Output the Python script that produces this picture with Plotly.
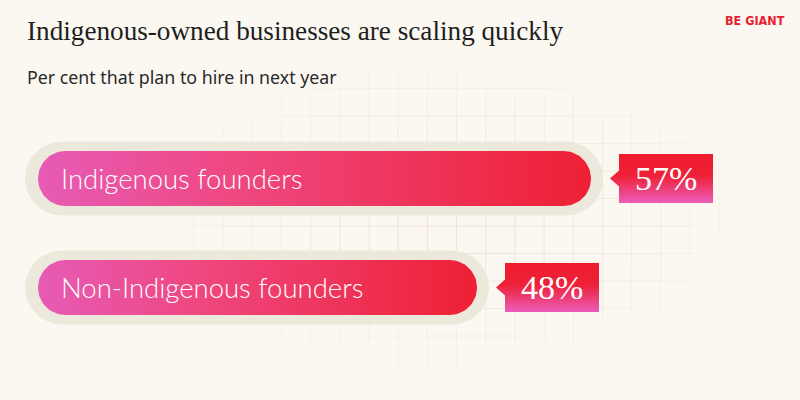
import numpy as np
import plotly.graph_objects as go

# ---------------- data ----------------
categories = ["Indigenous founders", "Non-Indigenous founders"]
values = [57, 48]
value_labels = ["57%", "48%"]
title = "Indigenous-owned businesses are scaling quickly"
subtitle = "Per cent that plan to hire in next year"
brand = "BE GIANT"

# ---------------- geometry / scales ----------------
W, H = 800, 400
X_RANGE = [10.34, 73.5]
Y_RANGE = [2.032, -1.638]
KX = W / (X_RANGE[1] - X_RANGE[0])
KY = H / (Y_RANGE[0] - Y_RANGE[1])


def dx(px):
    return px / KX


def dy(px):
    return px / KY


BAR_BASE = X_RANGE[0] + dx(38)

BG = "#FBF8F1"
PILL = "#ECE8DC"
BAR_SCALE = [[0, "#E65BB6"], [0.35, "#EF4882"], [1, "#EE2034"]]
BOX_SCALE = [[0, "#EE1B2D"], [0.45, "#EE2139"], [1, "#EC5DB9"]]


def pill(x0, x1, yc, hh):
    rx, ry = dx(hh), dy(hh)
    t1 = np.linspace(-np.pi / 2, np.pi / 2, 40)
    t2 = np.linspace(np.pi / 2, 3 * np.pi / 2, 40)
    xs = np.concatenate([x1 - rx + rx * np.cos(t1), x0 + rx + rx * np.cos(t2)])
    ys = np.concatenate([yc + ry * np.sin(t1), yc + ry * np.sin(t2)])
    return np.append(xs, xs[0]), np.append(ys, ys[0])


fig = go.Figure()

# faint decorative grid
shapes = []
cx, cy = 450, 215
for gx in np.arange(515 - 29.2 * 13, 760, 29.2):
    for sy in np.arange(40, 380, 27.5):
        d = ((gx - cx) / 310) ** 2 + ((sy + 13 - cy) / 165) ** 2
        op = max(0.0, 0.5 * (1 - d))
        if op > 0.02:
            shapes.append(dict(type="line", xref="paper", yref="paper",
                               x0=gx / W, x1=gx / W, y0=1 - sy / H, y1=1 - (sy + 27.5) / H,
                               line=dict(color="rgba(232,205,195,%.3f)" % op, width=1), layer="below"))
for gy in np.arange(226 - 27.5 * 6, 380, 27.5):
    for sx in np.arange(515 - 29.2 * 13, 760, 29.2):
        d = ((sx + 14 - cx) / 310) ** 2 + ((gy - cy) / 165) ** 2
        op = max(0.0, 0.5 * (1 - d))
        if op > 0.02:
            shapes.append(dict(type="line", xref="paper", yref="paper",
                               x0=sx / W, x1=(sx + 29.2) / W, y0=1 - gy / H, y1=1 - gy / H,
                               line=dict(color="rgba(232,205,195,%.3f)" % op, width=1), layer="below"))

annotations = []
for i, (cat, v, lab) in enumerate(zip(categories, values, value_labels)):
    # outer pill
    ox, oy = pill(X_RANGE[0] + dx(25), v + dx(12), i, 37)
    fig.add_trace(go.Scatter(x=ox, y=oy, fill="toself", fillcolor=PILL, mode="lines",
                             line=dict(width=0), hoverinfo="skip", showlegend=False))
    # bar
    bx, by = pill(BAR_BASE, v, i, 27.5)
    fig.add_trace(go.Scatter(x=bx, y=by, fill="toself", mode="lines", line=dict(width=0),
                             fillgradient=dict(type="horizontal", colorscale=BAR_SCALE),
                             name=cat, hovertemplate="%{fullData.name}: " + lab + "<extra></extra>",
                             showlegend=False))
    # value box with pointer
    b0 = v + dx(28)
    b1 = b0 + dx(94)
    top, bot = i - dy(24.5), i + dy(24.5)
    tip = v + dx(19)
    kx = [b0, b1, b1, b0, b0, tip, b0, b0]
    ky = [top, top, bot, bot, i + dy(8), i, i - dy(8), top]
    fig.add_trace(go.Scatter(x=kx, y=ky, fill="toself", mode="lines", line=dict(width=0),
                             fillgradient=dict(type="vertical", colorscale=BOX_SCALE,
                                               start=top, stop=bot),
                             hoverinfo="skip", showlegend=False))
    annotations.append(dict(x=BAR_BASE + dx(21), y=i, xref="x", yref="y", text=cat,
                            showarrow=False, xanchor="left", yanchor="middle",
                            font=dict(family="Lato", size=27.5, color="white", weight=300)))
    annotations.append(dict(x=(b0 + b1) / 2, y=i, xref="x", yref="y", text=lab,
                            showarrow=False, xanchor="center", yanchor="middle",
                            font=dict(family="Liberation Serif", size=34, color="white")))

annotations.append(dict(x=25 / W, y=1 - 31 / H, xref="paper", yref="paper", text=title,
                        showarrow=False, xanchor="left", yanchor="middle",
                        font=dict(family="Liberation Serif", size=27.2, color="#1E1E1E")))
annotations.append(dict(x=25 / W, y=1 - 77 / H, xref="paper", yref="paper", text=subtitle,
                        showarrow=False, xanchor="left", yanchor="middle",
                        font=dict(family="Noto Sans", size=17.8, color="#2A2A2A")))
annotations.append(dict(x=787 / W, y=1 - 20 / H, xref="paper", yref="paper", text=brand,
                        showarrow=False, xanchor="right", yanchor="middle",
                        font=dict(family="DejaVu Sans Condensed, DejaVu Sans", size=12.5,
                                  color="#E8202F", weight="bold")))

fig.update_layout(
    width=W, height=H, margin=dict(l=0, r=0, t=0, b=0),
    paper_bgcolor=BG, plot_bgcolor="rgba(0,0,0,0)",
    xaxis=dict(range=X_RANGE, visible=False, fixedrange=True),
    yaxis=dict(range=Y_RANGE, visible=False, fixedrange=True),
    shapes=shapes, annotations=annotations,
)

fig.write_html("out.html")
